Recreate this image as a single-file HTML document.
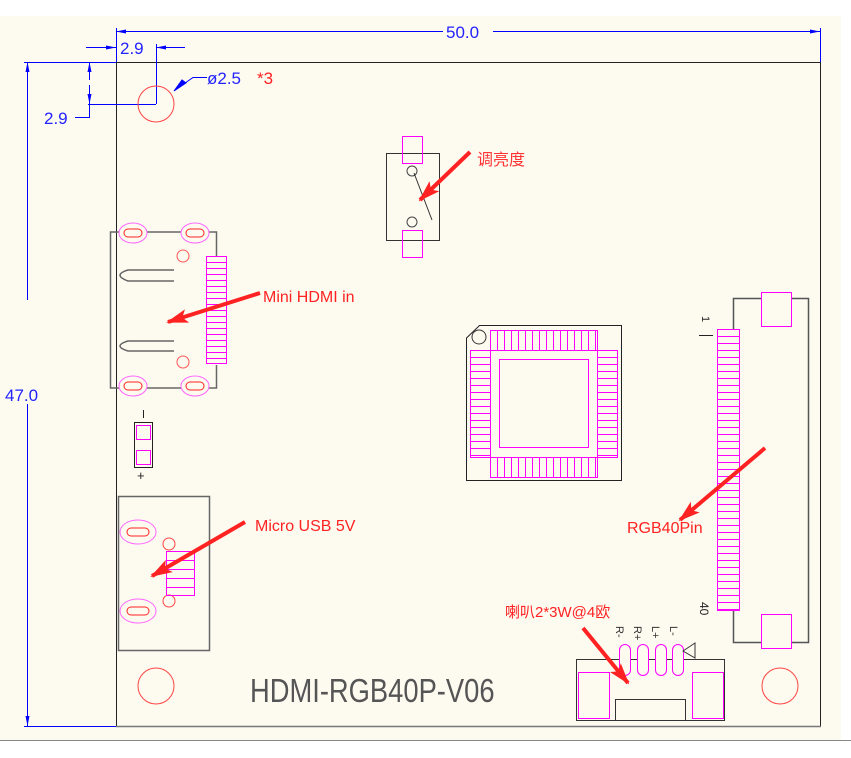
<!DOCTYPE html>
<html><head><meta charset="utf-8"><style>
body{margin:0;background:#fff;width:851px;height:758px;overflow:hidden}
svg{display:block}
text{font-family:"Liberation Sans","Noto Sans CJK SC",sans-serif}
</style></head><body>
<svg width="851" height="758" viewBox="0 0 851 758" xmlns="http://www.w3.org/2000/svg">
<defs>
<pattern id="ph" width="10" height="7" patternUnits="userSpaceOnUse" y="329"><line x1="0" y1="0.5" x2="10" y2="0.5" stroke="#f0f" stroke-width="1"/></pattern>
<pattern id="ph2" width="10" height="6" patternUnits="userSpaceOnUse" y="256"><line x1="0" y1="0.5" x2="10" y2="0.5" stroke="#f0f" stroke-width="1"/></pattern>
<pattern id="ph3" width="10" height="7" patternUnits="userSpaceOnUse" y="350"><line x1="0" y1="0.5" x2="10" y2="0.5" stroke="#f0f" stroke-width="1"/></pattern>
<pattern id="pv3" width="7" height="10" patternUnits="userSpaceOnUse" x="490"><line x1="0.5" y1="0" x2="0.5" y2="10" stroke="#f0f" stroke-width="1"/></pattern>
<pattern id="ph4" width="10" height="9" patternUnits="userSpaceOnUse" y="551"><line x1="0" y1="0.5" x2="10" y2="0.5" stroke="#f0f" stroke-width="1"/></pattern>
<marker id="ab" markerWidth="10" markerHeight="6" refX="10" refY="3" orient="auto" markerUnits="userSpaceOnUse"><path d="M0,1 L10,3 L0,5 Z" fill="#00f"/></marker>
<marker id="ar" markerWidth="22" markerHeight="14" refX="20" refY="7" orient="auto" markerUnits="userSpaceOnUse"><path d="M0,0 L22,7 L0,14 L5,7 Z" fill="#f22"/></marker>
</defs>
<rect x="0" y="16" width="841" height="724" fill="#fdfbf0"/>
<line x1="0" y1="740.5" x2="851" y2="740.5" stroke="#888"/>
<!-- board -->
<rect x="116.5" y="62.5" width="704" height="664" fill="none" stroke="#222"/>
<line x1="116" y1="726.5" x2="821" y2="726.5" stroke="#777" stroke-width="1.5"/>
<!-- dims -->
<g stroke="#00f" fill="none">
<line x1="116.5" y1="28" x2="116.5" y2="62"/>
<line x1="820.5" y1="28" x2="820.5" y2="62"/>
<line x1="130" y1="31.5" x2="820" y2="31.5" marker-end="url(#ab)"/>
<line x1="440" y1="31.5" x2="116" y2="31.5" marker-end="url(#ab)"/>
<line x1="86" y1="47.5" x2="116" y2="47.5" marker-end="url(#ab)"/>
<line x1="185" y1="47.5" x2="156" y2="47.5" marker-end="url(#ab)"/>
<line x1="156.5" y1="44" x2="156.5" y2="104"/>
<line x1="24" y1="62.5" x2="116" y2="62.5"/>
<line x1="88" y1="104.5" x2="156" y2="104.5"/>
<line x1="89.5" y1="80" x2="89.5" y2="62" marker-end="url(#ab)"/>
<line x1="89.5" y1="85" x2="89.5" y2="104" marker-end="url(#ab)"/>
<polyline points="75,117.5 89.5,117.5 89.5,104"/>
<line x1="27.5" y1="300" x2="27.5" y2="62" marker-end="url(#ab)"/>
<line x1="27.5" y1="400" x2="27.5" y2="726" marker-end="url(#ab)"/>
<line x1="24" y1="726.5" x2="116" y2="726.5"/>
<polyline points="207,77.5 193,77.5 178,88" />
<path d="M186,83 L174,91 L182,80 Z" fill="#00f"/>
</g>
<g fill="#22f" font-size="17">
<rect x="443" y="24" width="50" height="16" fill="#fdfbf0"/>
<text x="446" y="38">50.0</text>
<text x="120" y="54">2.9</text>
<text x="44" y="124">2.9</text>
<rect x="4" y="386" width="46" height="18" fill="#fdfbf0"/>
<text x="5" y="401">47.0</text>
<text x="207" y="84">ø2.5</text>
</g>
<text x="257" y="84" fill="#f22" font-size="17">*3</text>
<!-- holes -->
<g fill="none" stroke="#f44">
<circle cx="156" cy="104" r="18"/><circle cx="156" cy="686" r="18"/><circle cx="780" cy="686" r="18"/>
</g>
<!-- pot -->
<rect x="386.5" y="153.5" width="53" height="87" fill="none" stroke="#333"/>
<rect x="402.5" y="136.5" width="20" height="27" fill="none" stroke="#f0f"/>
<rect x="402.5" y="230.5" width="20" height="27" fill="none" stroke="#f0f"/>
<circle cx="412" cy="171" r="5" fill="none" stroke="#444"/><circle cx="412" cy="222" r="5" fill="none" stroke="#444"/>
<line x1="414" y1="173" x2="432" y2="220" stroke="#333"/>
<line x1="470" y1="152" x2="420" y2="200" stroke="#f22" stroke-width="4" marker-end="url(#ar)"/>
<text x="477" y="165" fill="#f33" font-size="16">调亮度</text>
<!-- HDMI -->
<g fill="none" stroke="#666" stroke-width="1.5">
<polyline points="119,232 110.5,232 110.5,388 119,388"/>
<line x1="147" y1="232" x2="181" y2="232"/><line x1="147" y1="388" x2="181" y2="388"/>
<polyline points="209,232 216.5,232 216.5,256"/><polyline points="209,388 216.5,388 216.5,365"/>
<path d="M174,270 L128,270 Q112,275 128,281 L174,281"/>
<path d="M174,341 L128,341 Q112,346 128,351 L174,351"/>
</g>
<g fill="none">
<g stroke="#f6f"><ellipse cx="133" cy="233" rx="14" ry="10"/><ellipse cx="195" cy="233" rx="14" ry="10"/><ellipse cx="133" cy="386" rx="14" ry="10"/><ellipse cx="195" cy="386" rx="14" ry="10"/></g>
<g stroke="#f22"><rect x="124" y="229" width="18" height="8" rx="4"/><rect x="186" y="229" width="18" height="8" rx="4"/><rect x="124" y="382" width="18" height="8" rx="4"/><rect x="186" y="382" width="18" height="8" rx="4"/>
<circle cx="183" cy="256" r="6" stroke="#f55"/><circle cx="183" cy="362" r="6" stroke="#f55"/></g>
</g>
<rect x="206.5" y="256.5" width="20" height="107" fill="url(#ph2)" stroke="#f0f"/>
<line x1="260" y1="293" x2="168" y2="322" stroke="#f22" stroke-width="4" marker-end="url(#ar)"/>
<text x="263" y="302" fill="#f22" font-size="16">Mini HDMI in</text>
<!-- switch -->
<rect x="134.5" y="422.5" width="18" height="45" fill="none" stroke="#222"/>
<rect x="136.5" y="425.5" width="14" height="14" fill="none" stroke="#f0f"/>
<rect x="136.5" y="450.5" width="14" height="14" fill="none" stroke="#f0f"/>
<line x1="143.5" y1="410" x2="143.5" y2="418" stroke="#222"/>
<text x="137" y="480" font-size="13" fill="#222">+</text>
<!-- micro USB -->
<rect x="118.5" y="496.5" width="91" height="154" fill="none" stroke="#666" stroke-width="1.5"/>
<g fill="none"><ellipse cx="138" cy="532" rx="18" ry="12" stroke="#f6f"/><ellipse cx="138" cy="611" rx="18" ry="12" stroke="#f6f"/>
<rect x="127" y="528" width="22" height="8" rx="4" stroke="#f22"/><rect x="127" y="607" width="22" height="8" rx="4" stroke="#f22"/>
<circle cx="169" cy="544" r="6" stroke="#f44"/><circle cx="169" cy="601" r="6" stroke="#f44"/></g>
<rect x="166.5" y="551.5" width="28" height="44" fill="url(#ph4)" stroke="#f0f"/>
<line x1="245" y1="522" x2="152" y2="576" stroke="#f22" stroke-width="4" marker-end="url(#ar)"/>
<text x="255" y="531" fill="#f22" font-size="16">Micro USB 5V</text>
<!-- IC -->
<path d="M479.5,325.5 L621.5,325.5 L621.5,480.5 L466.5,480.5 L466.5,338 Z" fill="none" stroke="#222"/>
<circle cx="479" cy="337" r="7" fill="none" stroke="#333"/>
<rect x="490.5" y="330.5" width="107" height="20" fill="url(#pv3)" stroke="#f0f"/>
<rect x="490.5" y="457.5" width="107" height="20" fill="url(#pv3)" stroke="#f0f"/>
<rect x="470.5" y="350.5" width="20" height="107" fill="url(#ph3)" stroke="#f0f"/>
<rect x="597.5" y="350.5" width="20" height="107" fill="url(#ph3)" stroke="#f0f"/>
<rect x="490.5" y="350.5" width="107" height="107" fill="none" stroke="#f0f"/>
<rect x="499.5" y="359.5" width="89" height="88" fill="none" stroke="#f0f"/>
<!-- RGB connector -->
<polyline points="733.5,329 733.5,298.5 808.5,298.5 808.5,642.5 733.5,642.5 733.5,610" fill="none" stroke="#555" stroke-width="1.5"/>
<rect x="761.5" y="292.5" width="30" height="34" fill="#fdfbf0" stroke="#f0f"/>
<rect x="761.5" y="614.5" width="30" height="34" fill="#fdfbf0" stroke="#f0f"/>
<rect x="717.5" y="329.5" width="22" height="281" fill="url(#ph)" stroke="#f0f"/>
<line x1="699" y1="335.5" x2="713" y2="335.5" stroke="#222"/>
<text transform="translate(702,316) rotate(90)" font-size="11" fill="#222">1</text>
<text transform="translate(700,602) rotate(90)" font-size="12" fill="#222">40</text>
<line x1="765" y1="448" x2="680" y2="520" stroke="#f22" stroke-width="4" marker-end="url(#ar)"/>
<text x="627" y="533" fill="#f22" font-size="16">RGB40Pin</text>
<!-- speaker -->
<rect x="576.5" y="659.5" width="148" height="61" fill="none" stroke="#333"/>
<rect x="578.5" y="672.5" width="31" height="46" fill="none" stroke="#f0f"/>
<rect x="692.5" y="672.5" width="31" height="46" fill="none" stroke="#f0f"/>
<polyline points="615.5,720 615.5,699.5 685.5,699.5 685.5,720" fill="none" stroke="#333"/>
<g fill="#fdfbf0" stroke="#f0f"><rect x="619.5" y="644.5" width="11" height="31" rx="5.5"/><rect x="637.5" y="644.5" width="11" height="31" rx="5.5"/><rect x="655.5" y="644.5" width="11" height="31" rx="5.5"/><rect x="672.5" y="644.5" width="11" height="31" rx="5.5"/></g>
<path d="M683,651 L695,643 L695,658 Z" fill="none" stroke="#333"/>
<g font-size="11" fill="#333">
<text transform="translate(616,626) rotate(90)">R-</text>
<text transform="translate(634,626) rotate(90)">R+</text>
<text transform="translate(652,626) rotate(90)">L+</text>
<text transform="translate(670,626) rotate(90)">L-</text>
</g>
<line x1="583" y1="628" x2="628" y2="683" stroke="#f22" stroke-width="4" marker-end="url(#ar)"/>
<text x="505" y="617" fill="#f22" font-size="15">喇叭2*3W@4欧</text>
<text x="250" y="702" font-size="33" fill="#555" transform="translate(250,0) scale(0.67,1) translate(-250,0)" textLength="365" lengthAdjust="spacingAndGlyphs" font-weight="normal">HDMI-RGB40P-V06</text>
</svg>
</body></html>
